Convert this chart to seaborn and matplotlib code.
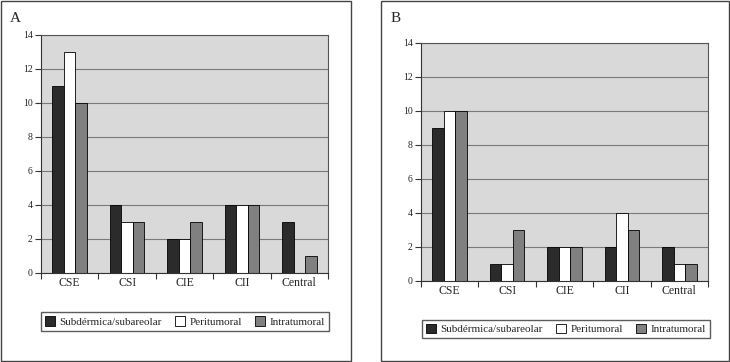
import matplotlib
matplotlib.use("Agg")
import matplotlib.pyplot as plt
from matplotlib.patches import Rectangle
import pandas as pd
import seaborn as sns

# data
categories = ["CSE", "CSI", "CIE", "CII", "Central"]
series = ["Subdérmica/subareolar", "Peritumoral", "Intratumoral"]
a_subdermica = [11, 4, 2, 4, 3]
a_peritumoral = [13, 3, 2, 4, 0]
a_intratumoral = [10, 3, 3, 4, 1]
b_subdermica = [9, 1, 2, 2, 2]
b_peritumoral = [10, 1, 2, 4, 1]
b_intratumoral = [10, 3, 2, 3, 1]
yticks = [0, 2, 4, 6, 8, 10, 12, 14]

colors = ["#2b2b2b", "#ffffff", "#808080"]

sns.set_style("white")
plt.rcParams["font.family"] = ["Liberation Serif", "DejaVu Serif"]


def long_df(sub, peri, intra):
    rows = []
    for name, vals in zip(series, [sub, peri, intra]):
        for cat, v in zip(categories, vals):
            rows.append({"zona": cat, "tipo": name, "n": v})
    return pd.DataFrame(rows)


W, H = 730, 362
fig = plt.figure(figsize=(W / 100, H / 100), dpi=100)


def px_axes(x0, y0, x1, y1):
    # pixel box (top-left origin) -> figure fraction
    return fig.add_axes([x0 / W, 1 - y1 / H, (x1 - x0) / W, (y1 - y0) / H])


def panel(ax, df, letter, lx, ly, leg_center):
    sns.barplot(data=df, x="zona", y="n", hue="tipo", palette=colors,
                width=0.6, edgecolor="black", linewidth=0.6, ax=ax,
                saturation=1, errorbar=None)
    handles, labels = ax.get_legend_handles_labels()
    ax.get_legend().remove()
    ax.set_facecolor("#d9d9d9")
    ax.set_ylim(0, 14)
    ax.set_xlim(-0.5, 4.5)
    ax.set_yticks(yticks)
    ax.yaxis.grid(True, color="#7a7a7a", linewidth=0.8)
    ax.set_axisbelow(True)
    ax.set_xlabel("")
    ax.set_ylabel("")
    for s in ax.spines.values():
        s.set_color("#555555")
        s.set_linewidth(0.8)
    ax.spines["left"].set_color("#333333")
    ax.spines["bottom"].set_color("#333333")
    ax.tick_params(axis="y", length=4, width=0.8, color="#333333",
                   labelsize=7, pad=2, direction="out", left=True)
    ax.tick_params(axis="x", which="major", length=0, labelsize=8.5, pad=3)
    ax.set_xticks([i - 0.5 for i in range(6)], minor=True)
    ax.tick_params(axis="x", which="minor", length=4, width=0.8,
                   color="#333333", direction="out", bottom=True)
    fig.text(lx / W, 1 - ly / H, letter, fontsize=11, va="center", ha="left")
    fig.legend(handles, labels, loc="center", ncol=3,
               bbox_to_anchor=(leg_center[0] / W, 1 - leg_center[1] / H),
               fontsize=8, frameon=True, fancybox=False, edgecolor="#333333",
               handlelength=0.9, handleheight=0.9, handletextpad=0.4,
               columnspacing=1.2, borderpad=0.35)


ax_a = px_axes(41, 35, 328, 273)
panel(ax_a, long_df(a_subdermica, a_peritumoral, a_intratumoral), "A",
      10, 18, (185, 321.5))

ax_b = px_axes(421, 43, 708, 281)
panel(ax_b, long_df(b_subdermica, b_peritumoral, b_intratumoral), "B",
      391, 18, (566, 329))

# panel frames
for x0, x1 in [(1, 351), (381, 729)]:
    fig.patches.append(Rectangle((x0 / W, 1 / H), (x1 - x0) / W, (H - 2) / H,
                                 transform=fig.transFigure, fill=False,
                                 edgecolor="#444444", linewidth=1.0))

fig.savefig("out.png", dpi=100)
